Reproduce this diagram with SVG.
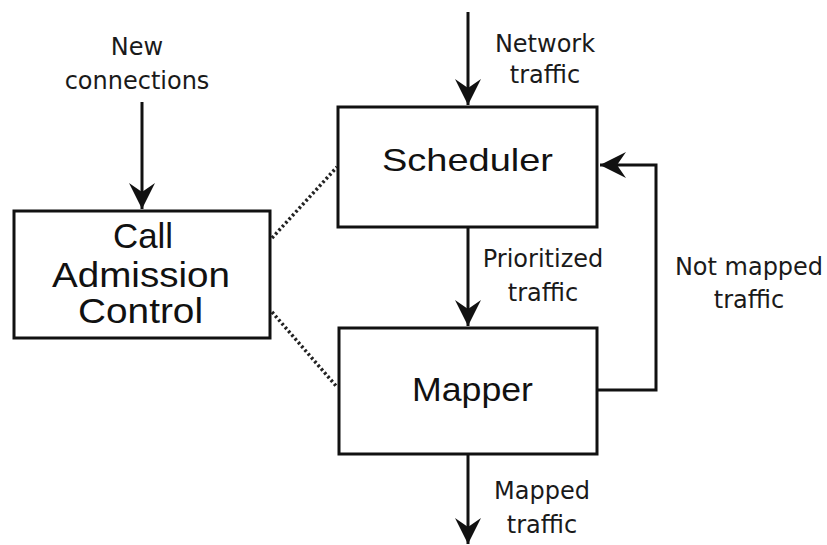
<svg xmlns="http://www.w3.org/2000/svg" width="827" height="545" viewBox="0 0 827 545">
  <style>
    .box { fill: #fff; stroke: #111; stroke-width: 3; }
    .big { font-family: "Liberation Sans", Arial, sans-serif; fill: #111; }
    .lbl { font-family: "DejaVu Sans", Verdana, sans-serif; font-size: 24px; fill: #1a1a1a; text-anchor: middle; }
    .wire { fill: none; stroke: #111; stroke-width: 3; }
    .dot { fill: none; stroke: #222; stroke-width: 3.5; stroke-dasharray: 2.5 2.5; }
  </style>
  <defs>
    <marker id="head" viewBox="-27 -14 28 28" refX="0" refY="0" markerWidth="28" markerHeight="28" markerUnits="userSpaceOnUse" orient="auto">
      <path d="M0,0 L-26,-13 L-17,0 L-26,13 Z" fill="#111"/>
    </marker>
  </defs>
  <rect width="827" height="545" fill="#fff"/>

  <!-- connectors -->
  <g id="connectors">
    <path class="wire" d="M142,102 V209" marker-end="url(#head)"/>
    <path class="wire" d="M468,12 V105" marker-end="url(#head)"/>
    <path class="wire" d="M468,227 V326" marker-end="url(#head)"/>
    <path class="wire" d="M468,454 V544" marker-end="url(#head)"/>
    <path class="wire" d="M597,390 H656 V165 H600" marker-end="url(#head)"/>
    <path class="dot" d="M272,238 L337,167"/>
    <path class="dot" d="M272,312 L337,387"/>
  </g>

  <!-- nodes -->
  <g id="cac">
    <rect class="box" x="14" y="211" width="256" height="127"/>
    <text class="big" font-size="35" x="113" y="248" textLength="60" lengthAdjust="spacingAndGlyphs">Call</text>
    <text class="big" font-size="35" x="52" y="287" textLength="178" lengthAdjust="spacingAndGlyphs">Admission</text>
    <text class="big" font-size="35" x="78" y="323" textLength="125" lengthAdjust="spacingAndGlyphs">Control</text>
  </g>
  <g id="scheduler">
    <rect class="box" x="338" y="107" width="259" height="120"/>
    <text class="big" font-size="32" x="382" y="171" textLength="171" lengthAdjust="spacingAndGlyphs">Scheduler</text>
  </g>
  <g id="mapper">
    <rect class="box" x="339" y="328" width="258" height="126"/>
    <text class="big" font-size="33" x="412" y="401" textLength="121" lengthAdjust="spacingAndGlyphs">Mapper</text>
  </g>

  <!-- connector labels -->
  <g id="labels">
    <text class="lbl" x="137" y="55">New</text>
    <text class="lbl" x="137" y="89">connections</text>
    <text class="lbl" x="545" y="52">Network</text>
    <text class="lbl" x="545" y="83">traffic</text>
    <text class="lbl" x="543" y="267">Prioritized</text>
    <text class="lbl" x="543" y="301">traffic</text>
    <text class="lbl" x="749" y="275">Not mapped</text>
    <text class="lbl" x="749" y="308">traffic</text>
    <text class="lbl" x="542" y="499">Mapped</text>
    <text class="lbl" x="542" y="533">traffic</text>
  </g>
</svg>
